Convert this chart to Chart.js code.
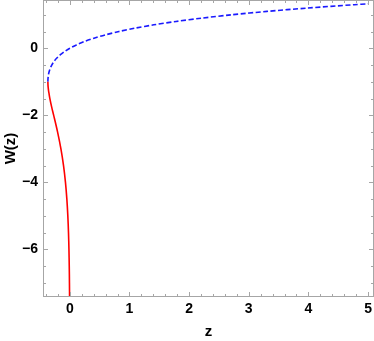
<!DOCTYPE html>
<html>
<head>
<meta charset="utf-8">
<script src="https://cdn.jsdelivr.net/npm/chart.js@4"></script>
<style>
  html, body { margin: 0; padding: 0; background: #fff; }
  #wrap { width: 374px; height: 341px; }
</style>
</head>
<body>
<div id="wrap"><canvas id="wChart"></canvas></div>
<script>
// lower branch (red, solid): z values and W values
const lowerZ = [-0.3679, -0.3674, -0.3662, -0.3641, -0.3581, -0.3474, -0.3347, -0.3052, -0.2707, -0.2052, -0.1494, -0.1057, -0.0733, -0.0500, -0.0337, -0.0225, -0.0149, -0.0098, -0.0064, -0.0041];
const lowerW = [-1.00, -1.05, -1.10, -1.15, -1.25, -1.37, -1.50, -1.75, -2.00, -2.50, -3.00, -3.50, -4.00, -4.50, -5.00, -5.50, -6.00, -6.50, -7.00, -7.50];
// upper branch (blue, dashed)
const upperZ = [-0.3679, -0.3674, -0.3659, -0.3595, -0.3476, -0.3293, -0.3033, -0.2681, -0.2222, -0.1637, -0.0905, 0.0000, 0.1105, 0.2443, 0.4049, 0.5967, 0.8246, 1.0933, 1.4079, 1.7804, 2.2136, 2.7183, 3.3046, 3.9841, 4.7701, 5.0000];
const upperW = [-1.00, -0.95, -0.90, -0.80, -0.70, -0.60, -0.50, -0.40, -0.30, -0.20, -0.10, 0.00, 0.10, 0.20, 0.30, 0.40, 0.50, 0.60, 0.70, 0.80, 0.90, 1.00, 1.10, 1.20, 1.30, 1.3267];

const xTicks = [0, 1, 2, 3, 4, 5];
const yTicks = [-6, -4, -2, 0];
const xMinorStep = 0.2;
const yMinorStep = 0.5;

const frameColor = '#a6a6a6';

const framePlugin = {
    id: 'frame',
    afterDatasetsDraw(chart) {
        const { ctx, chartArea: a, scales: { x, y } } = chart;
        ctx.save();
        ctx.strokeStyle = frameColor;
        ctx.lineWidth = 1;
        ctx.strokeRect(a.left + 0.5, a.top + 0.5, a.right - a.left - 1, a.bottom - a.top - 1);
        ctx.beginPath();
        // x ticks (bottom and top, pointing inward)
        for (let v = Math.ceil(x.min / xMinorStep) * xMinorStep; v <= x.max + 1e-9; v += xMinorStep) {
            const r = Math.round(v * 10) / 10;
            const major = xTicks.includes(r);
            const len = major ? 5 : 3;
            const px = Math.round(x.getPixelForValue(r)) + 0.5;
            ctx.moveTo(px, a.bottom); ctx.lineTo(px, a.bottom - len);
            ctx.moveTo(px, a.top); ctx.lineTo(px, a.top + len);
        }
        // y ticks (left and right)
        for (let v = Math.ceil(y.min / yMinorStep) * yMinorStep; v <= y.max + 1e-9; v += yMinorStep) {
            const major = yTicks.includes(v);
            const len = major ? 5 : 3;
            const py = Math.round(y.getPixelForValue(v)) + 0.5;
            ctx.moveTo(a.left, py); ctx.lineTo(a.left + len, py);
            ctx.moveTo(a.right, py); ctx.lineTo(a.right - len, py);
        }
        ctx.stroke();
        ctx.restore();
    }
};

const tickFont = { family: '"Liberation Sans", Arial, sans-serif', size: 14, weight: 'bold' };
const titleFont = { family: '"Liberation Sans", Arial, sans-serif', size: 15, weight: 'bold' };

new Chart(document.getElementById('wChart'), {
    type: 'scatter',
    data: {
        datasets: [
            {
                label: 'W-1',
                data: lowerZ.map((z, i) => ({ x: z, y: lowerW[i] })),
                showLine: true,
                borderColor: '#ff0000',
                borderWidth: 1.6,
                pointRadius: 0,
                tension: 0.3
            },
            {
                label: 'W0',
                data: upperZ.map((z, i) => ({ x: z, y: upperW[i] })),
                showLine: true,
                borderColor: '#1a1aff',
                borderWidth: 1.6,
                borderDash: [5, 2.5],
                pointRadius: 0,
                tension: 0.3
            }
        ]
    },
    options: {
        responsive: true,
        maintainAspectRatio: false,
        animation: false,
        layout: { padding: { top: 0, right: 0, left: 0, bottom: 0 } },
        plugins: { legend: { display: false }, tooltip: { enabled: false } },
        scales: {
            x: {
                type: 'linear',
                min: -0.45,
                max: 5.1,
                grid: { display: false, drawTicks: false },
                border: { display: false },
                afterBuildTicks: s => { s.ticks = xTicks.map(v => ({ value: v })); },
                afterFit: s => { s.height = 44; s.paddingLeft = 0; s.paddingRight = 0; },
                ticks: { color: '#000', font: tickFont, padding: 4, maxRotation: 0 },
                title: { display: true, text: 'z', color: '#000', font: titleFont, padding: { top: 0, bottom: 0 } }
            },
            y: {
                type: 'linear',
                min: -7.42,
                max: 1.44,
                grid: { display: false, drawTicks: false },
                border: { display: false },
                afterBuildTicks: s => { s.ticks = yTicks.map(v => ({ value: v })); },
                afterFit: s => { s.width = 43; s.paddingTop = 0; s.paddingBottom = 0; },
                ticks: { color: '#000', font: tickFont, padding: 5, callback: v => v < 0 ? '\u2212' + Math.abs(v) : String(v) },
                title: { display: true, text: 'W(z)', color: '#000', font: titleFont, padding: { top: 2, bottom: 0 } }
            }
        }
    },
    plugins: [framePlugin]
});
</script>
</body>
</html>
